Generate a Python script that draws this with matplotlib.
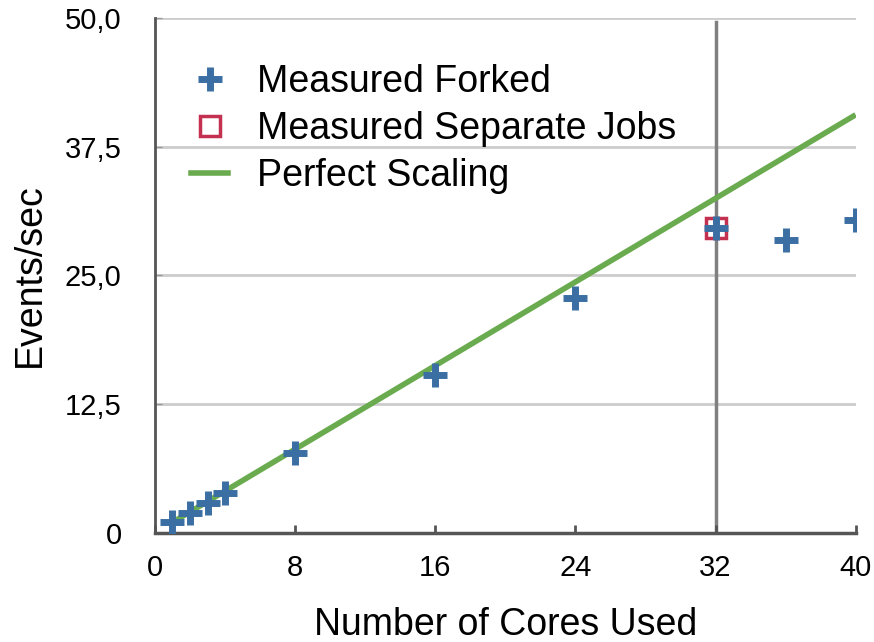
import matplotlib
matplotlib.use("Agg")
import matplotlib.pyplot as plt
from matplotlib.lines import Line2D

plt.rcParams['font.family'] = ['Liberation Sans', 'DejaVu Sans']

# Throughput measurements
forked_cores = [1, 2, 3, 4, 8, 16, 24, 32, 36, 40]
forked_rate = [1.1, 1.95, 2.9, 3.9, 7.8, 15.3, 22.8, 29.6, 28.4, 30.4]

separate_cores = [32]
separate_rate = [29.6]

perfect_cores = [1, 40]
perfect_rate = [1.02, 40.6]

x_ticks = [0, 8, 16, 24, 32, 40]
y_ticks = [0, 12.5, 25, 37.5, 50]
y_tick_labels = ["0", "12,5", "25,0", "37,5", "50,0"]

blue = "#3b6fa3"
red = "#c4304f"
green = "#6aab4f"

fig = plt.figure(figsize=(8.74, 6.42), dpi=100)
ax = fig.add_axes([0.1773, 0.170, 0.8017, 0.802])

ax.set_xlim(0, 40)
ax.set_ylim(0, 50)

# horizontal grid
for yv in y_ticks[1:]:
    ax.axhline(yv, color="#cccccc", lw=2.0, zorder=0)
# marker for 32 cores
ax.plot([32, 32], [0, 49.6], color="#808080", lw=2.5, zorder=1)

ax.plot(perfect_cores, perfect_rate, color=green, lw=4, solid_capstyle="butt", zorder=2)
ax.plot(separate_cores, separate_rate, linestyle="none", marker="s", markersize=15,
        markerfacecolor="none", markeredgecolor=red, markeredgewidth=2.5, zorder=3)
ax.plot(forked_cores, forked_rate, linestyle="none", marker="+", markersize=17,
        markeredgewidth=5, color=blue, zorder=4)

for s in ["top", "right"]:
    ax.spines[s].set_visible(False)
ax.spines["left"].set_color("#555555")
ax.spines["left"].set_linewidth(2)
ax.spines["bottom"].set_color("#555555")
ax.spines["bottom"].set_linewidth(2.5)

ax.set_xticks(x_ticks)
ax.set_yticks(y_ticks)
ax.set_yticklabels(y_tick_labels)
ax.tick_params(axis="x", direction="in", length=6, width=2, color="#555555",
               labelsize=21, pad=15)
ax.tick_params(axis="y", direction="in", length=5, width=1, color="#999999",
               labelsize=21, pad=24)

ax.set_xlabel("Number of Cores Used", fontsize=27, labelpad=18)
ax.set_ylabel("Events/sec", fontsize=27, labelpad=12)

handles = [
    Line2D([], [], linestyle="none", marker="+", markersize=17, markeredgewidth=5, color=blue),
    Line2D([], [], linestyle="none", marker="s", markersize=15, markerfacecolor="none",
           markeredgecolor=red, markeredgewidth=2.5),
    Line2D([], [], color=green, lw=4),
]
labels = ["Measured Forked", "Measured Separate Jobs", "Perfect Scaling"]
ax.legend(handles, labels, loc="upper left", bbox_to_anchor=(0.03, 0.94),
          frameon=False, fontsize=27, handlelength=1.0, handletextpad=0.75,
          labelspacing=0.3, borderaxespad=0)

fig.savefig("out.png", dpi=100)
